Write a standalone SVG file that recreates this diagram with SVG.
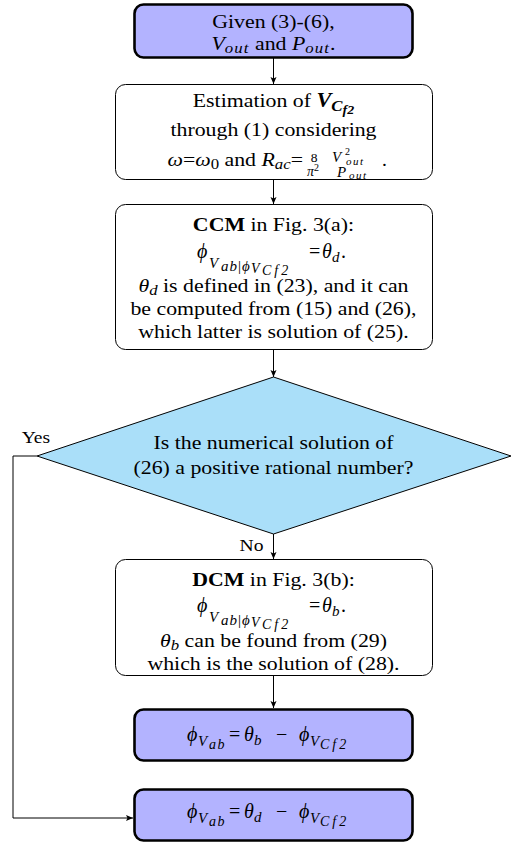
<svg xmlns="http://www.w3.org/2000/svg" width="513" height="846" viewBox="0 0 513 846" font-family="'Liberation Serif', 'Times New Roman', serif">
<defs>
<marker id="arr" markerUnits="userSpaceOnUse" markerWidth="8" markerHeight="8" refX="7" refY="3.5" orient="auto">
<path d="M0,0.5 L7,3.5 L0,6.5 L1.5,3.5 z" fill="#000"/>
</marker>
<style>
text{font-family:'Liberation Serif','Times New Roman',serif;fill:#000}
.t{font-size:19.5px}
.m{font-size:20px;font-style:italic}
.i{font-style:italic}
.b{font-weight:bold}
.s{font-size:15px}
.ss{font-size:14px}
.thick{fill:#b3b3ff;stroke:#000;stroke-width:2.6}
.thin{fill:#fff;stroke:#000;stroke-width:1}
.c{fill:none;stroke:#000;stroke-width:1}
</style>
</defs>
<rect width="513" height="846" fill="#fff"/>
<g id="connectors">
<line class="c" x1="273.5" y1="58" x2="273.5" y2="84" marker-end="url(#arr)"/>
<line class="c" x1="273.5" y1="180" x2="273.5" y2="204" marker-end="url(#arr)"/>
<line class="c" x1="273.5" y1="350" x2="273.5" y2="377" marker-end="url(#arr)"/>
<line class="c" x1="273.5" y1="534" x2="273.5" y2="559" marker-end="url(#arr)"/>
<line class="c" x1="273.5" y1="676" x2="273.5" y2="708" marker-end="url(#arr)"/>
<path class="c" d="M37,456 H13 V818 H133" marker-end="url(#arr)"/>
<g transform="matrix(1.12 0 0 1 -32.82 0)">
<text x="61.4" y="443" font-size="17.5" text-anchor="middle">Yes</text>
<text x="253.9" y="551" font-size="17.5" text-anchor="middle">No</text>
</g>
</g>
<g id="start">
<rect class="thick" x="134.5" y="4.5" width="278" height="53" rx="9"/>
<g transform="matrix(1.12 0 0 1 -32.82 0)">
<text class="t" x="273.5" y="28" text-anchor="middle">Given (3)-(6),</text>
<text class="t" x="273.5" y="50" text-anchor="middle"><tspan class="i">V</tspan><tspan class="s i" dy="3" letter-spacing="1">out</tspan><tspan dy="-3"> and </tspan><tspan class="i">P</tspan><tspan class="s i" dy="3" letter-spacing="1">out</tspan><tspan dy="-3">.</tspan></text>
</g>
</g>
<g id="estimate">
<rect class="thin" x="115.5" y="84.5" width="317" height="95" rx="10"/>
<g transform="matrix(1.12 0 0 1 -32.82 0)">
<text class="t" x="273.5" y="107" text-anchor="middle">Estimation of <tspan class="b i" font-size="20">V</tspan><tspan class="b i s" dy="4">C</tspan><tspan class="b i" font-size="12.5" dy="3">f2</tspan></text>
<text class="t" x="273.5" y="136" text-anchor="middle">through (1) considering</text>
<text class="t" x="299.8" y="166" text-anchor="end"><tspan class="i">ω</tspan>=<tspan class="i">ω</tspan><tspan class="s" dy="3">0</tspan><tspan dy="-3"> and </tspan><tspan class="i">R</tspan><tspan class="s i" dy="3">ac</tspan><tspan dy="-3">=</tspan></text>
</g>
<text x="314" y="162" font-size="13.5" text-anchor="middle">8</text>
<text x="307" y="176"><tspan font-size="14" font-style="italic">π</tspan><tspan font-size="10" dy="-5">2</tspan></text>
<text x="332" y="162" font-size="15" font-style="italic">V</text>
<text x="345" y="155" font-size="10">2</text>
<text x="346" y="165" font-size="11" font-style="italic" letter-spacing="1.5">out</text>
<text x="337" y="177" font-size="15" font-style="italic">P</text>
<text x="349" y="179" font-size="11" font-style="italic" letter-spacing="1.5">out</text>
<text x="382" y="166" font-size="19.5">.</text>
</g>
<g id="ccm">
<rect class="thin" x="115.5" y="204.5" width="317" height="145" rx="10"/>
<g transform="matrix(1.12 0 0 1 -32.82 0)">
<text class="t" x="273.5" y="231" text-anchor="middle"><tspan class="b">CCM</tspan> in Fig. 3(a):</text>
<text class="t" x="273.5" y="292" text-anchor="middle"><tspan class="i">θ</tspan><tspan class="s i" dy="3">d</tspan><tspan dy="-3"> is defined in (23), and it can</tspan></text>
<text class="t" x="273.5" y="315" text-anchor="middle">be computed from (15) and (26),</text>
<text class="t" x="273.5" y="338" text-anchor="middle">which latter is solution of (25).</text>
</g>
<text class="m" x="197" y="258">ϕ</text>
<text class="m s" x="209" y="268">V</text>
<text class="m s" x="221" y="271" letter-spacing="1">ab</text>
<text class="s" x="238" y="271">|</text>
<text class="m s" x="242" y="271">ϕ</text>
<text class="m ss" x="251" y="273">V</text>
<text class="m ss" x="262" y="275" letter-spacing="3">Cf2</text>
<text x="309" y="258" font-size="20">=</text>
<text class="m" x="322" y="258">θ</text>
<text class="m s" x="332" y="262">d</text>
<text x="341" y="258" font-size="20">.</text>
</g>
<g id="decision">
<polygon points="273.5,377 511,456 273.5,534 37,456" fill="#aadff9" stroke="#000" stroke-width="1"/>
<g transform="matrix(1.12 0 0 1 -32.82 0)">
<text class="t" x="273.5" y="449" text-anchor="middle">Is the numerical solution of</text>
<text class="t" x="273.5" y="474" text-anchor="middle">(26) a positive rational number?</text>
</g>
</g>
<g id="dcm">
<rect class="thin" x="115.5" y="559.5" width="317" height="116" rx="10"/>
<g transform="matrix(1.12 0 0 1 -32.82 0)">
<text class="t" x="273.5" y="586" text-anchor="middle"><tspan class="b">DCM</tspan> in Fig. 3(b):</text>
<text class="t" x="273.5" y="647" text-anchor="middle"><tspan class="i">θ</tspan><tspan class="s i" dy="3">b</tspan><tspan dy="-3"> can be found from (29)</tspan></text>
<text class="t" x="273.5" y="670" text-anchor="middle">which is the solution of (28).</text>
</g>
<text class="m" x="197" y="612">ϕ</text>
<text class="m s" x="209" y="622">V</text>
<text class="m s" x="221" y="625" letter-spacing="1">ab</text>
<text class="s" x="238" y="625">|</text>
<text class="m s" x="242" y="625">ϕ</text>
<text class="m ss" x="251" y="627">V</text>
<text class="m ss" x="262" y="629" letter-spacing="3">Cf2</text>
<text x="309" y="612" font-size="20">=</text>
<text class="m" x="322" y="612">θ</text>
<text class="m s" x="332" y="616">b</text>
<text x="341" y="612" font-size="20">.</text>
</g>
<g id="result-b">
<rect class="thick" x="134.5" y="709.5" width="278" height="51" rx="9"/>
<text class="m" x="187" y="741">ϕ</text>
<text class="m s" x="198" y="746">V</text>
<text class="m ss" x="209" y="749" letter-spacing="1.5">ab</text>
<text x="229" y="741" font-size="20">=</text>
<text class="m" x="244" y="741">θ</text>
<text class="m s" x="254" y="745">b</text>
<text x="276" y="741" font-size="20">−</text>
<text class="m" x="299" y="741">ϕ</text>
<text class="m s" x="310" y="746">V</text>
<text class="m ss" x="320" y="749" letter-spacing="3">Cf2</text>
</g>
<g id="result-d">
<rect class="thick" x="134.5" y="789.5" width="278" height="51" rx="9"/>
<text class="m" x="187" y="818">ϕ</text>
<text class="m s" x="198" y="823">V</text>
<text class="m ss" x="209" y="826" letter-spacing="1.5">ab</text>
<text x="229" y="818" font-size="20">=</text>
<text class="m" x="244" y="818">θ</text>
<text class="m s" x="254" y="822">d</text>
<text x="276" y="818" font-size="20">−</text>
<text class="m" x="299" y="818">ϕ</text>
<text class="m s" x="310" y="823">V</text>
<text class="m ss" x="320" y="826" letter-spacing="3">Cf2</text>
</g>
</svg>
